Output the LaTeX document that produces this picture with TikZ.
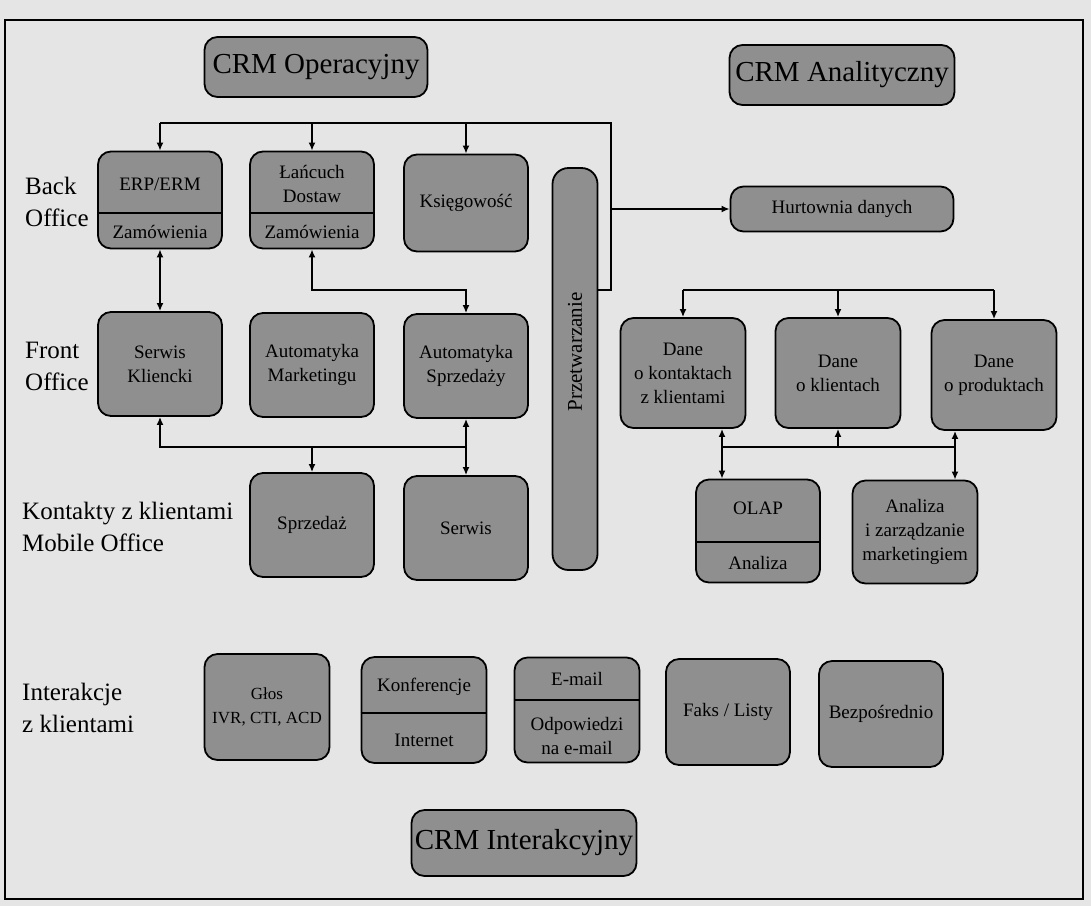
\documentclass[tikz,border=0pt]{standalone}
\usepackage{fontspec}
\setmainfont{Liberation Serif}
\usetikzlibrary{arrows.meta}
\definecolor{boxgray}{gray}{0.56}
\definecolor{paper}{gray}{0.90}
\begin{document}
\begin{tikzpicture}[x=1pt,y=-1pt,
  box/.style={draw=black, fill=boxgray, line width=1.8pt, rounded corners=13pt, align=center, inner sep=0pt, font=\fontsize{19}{24}\selectfont},
  big/.style={box, font=\fontsize{29}{34}\selectfont},
  txt/.style={align=center, inner sep=0pt, font=\fontsize{19}{24}\selectfont},
  side/.style={align=left, anchor=west, inner sep=0pt, font=\fontsize{25}{32}\selectfont},
  conn/.style={line width=1.8pt},
  arr/.style={conn, -{Latex[length=8pt,width=7pt]}},
  dbl/.style={conn, {Latex[length=8pt,width=7pt]}-{Latex[length=8pt,width=7pt]}},
  divider/.style={line width=1.8pt}
]
\fill[paper] (0,0) rectangle (1091,906);
\useasboundingbox (0,0) rectangle (1091,906);
\draw[line width=2pt] (5,20) rectangle (1083,899);

% headers
\node[big, minimum width=223pt, minimum height=60pt] (opr) at (316,67) {CRM Operacyjny};
\node[big, minimum width=225pt, minimum height=60pt] (ana) at (842,75) {CRM Analityczny};
\node[big, minimum width=225pt, minimum height=66pt] (int) at (524,843) {CRM Interakcyjny};

% side labels
\node[side] (lbBack) at (25,202) {Back\\Office};
\node[side] (lbFront) at (25,366) {Front\\Office};
\node[side] (lbMob) at (22,527) {Kontakty z klientami\\Mobile Office};
\node[side] (lbInt) at (22,708) {Interakcje\\z klientami};

% back office
\node[box, minimum width=124pt, minimum height=97pt] (erp) at (160,200) {};
\draw[divider] (erp.west |- 0,213) -- (erp.east |- 0,213);
\node[txt] (erpA) at (160,184) {ERP/ERM};
\node[txt] (erpB) at (160,232) {Zamówienia};
\node[box, minimum width=124pt, minimum height=97pt] (lan) at (312,200) {};
\draw[divider] (lan.west |- 0,213) -- (lan.east |- 0,213);
\node[txt] (lanA) at (312,184) {Łańcuch\\Dostaw};
\node[txt] (lanB) at (312,232) {Zamówienia};
\node[box, minimum width=124pt, minimum height=97pt] (ksi) at (466,203) {Księgowość};

% processing
\node[box, minimum width=45pt, minimum height=402pt, rounded corners=16pt] (prz) at (575,369) {};
\node[txt, rotate=90, font=\fontsize{21}{24}\selectfont] (przT) at (575,352) {Przetwarzanie};

\node[box, minimum width=223pt, minimum height=45pt] (hur) at (842,209) {Hurtownia danych};

% front office
\node[box, minimum width=124pt, minimum height=104pt] (sk) at (160,364) {Serwis\\Kliencki};
\node[box, minimum width=124pt, minimum height=104pt] (am) at (312,365) {Automatyka\\Marketingu};
\node[box, minimum width=124pt, minimum height=104pt] (as) at (466,366) {Automatyka\\Sprzedaży};

% mobile office
\node[box, minimum width=124pt, minimum height=104pt] (sprz) at (312,525) {Sprzedaż};
\node[box, minimum width=124pt, minimum height=104pt] (serw) at (466,528) {Serwis};

% analytic data
\node[box, minimum width=125pt, minimum height=110pt] (dk) at (683,373) {Dane\\o kontaktach\\z klientami};
\node[box, minimum width=125pt, minimum height=110pt] (dkl) at (838,373) {Dane\\o klientach};
\node[box, minimum width=125pt, minimum height=110pt] (dp) at (994,375) {Dane\\o produktach};

\node[box, minimum width=124pt, minimum height=103pt] (olap) at (758,531) {};
\draw[divider] (olap.west |- 0,542) -- (olap.east |- 0,542);
\node[txt] (olapA) at (758,508) {OLAP};
\node[txt] (olapB) at (758,563) {Analiza};
\node[box, minimum width=125pt, minimum height=103pt] (anm) at (915,532) {Analiza\\i zarządzanie\\marketingiem};

% interaction channels
\node[box, minimum width=125pt, minimum height=106pt, font=\fontsize{17}{24}\selectfont] (glos) at (267,707) {Głos\\IVR, CTI, ACD};
\node[box, minimum width=125pt, minimum height=106pt] (konf) at (424,710) {};
\draw[divider] (konf.west |- 0,713) -- (konf.east |- 0,713);
\node[txt] (konfA) at (424,687) {Konferencje};
\node[txt] (konfB) at (424,740) {Internet};
\node[box, minimum width=125pt, minimum height=105pt] (mail) at (577,710) {};
\draw[divider] (mail.west |- 0,700) -- (mail.east |- 0,700);
\node[txt] (mailA) at (577,679) {E-mail};
\node[txt] (mailB) at (577,736) {Odpowiedzi\\na e-mail};
\node[box, minimum width=124pt, minimum height=106pt] (faks) at (728,712) {Faks / Listy};
\node[box, minimum width=124pt, minimum height=106pt] (bez) at (881,714) {Bezpośrednio};

% connectors: top bus
\coordinate (tb) at (611,123);
\draw[conn] (erp.north |- tb) -- (tb) -- (tb |- 0,290) -- (prz.east |- 0,290);
\draw[arr] (erp.north |- tb) -- (erp.north);
\draw[arr] (lan.north |- tb) -- (lan.north);
\draw[arr] (ksi.north |- tb) -- (ksi.north);
\draw[arr] (tb |- hur.west) -- (hur.west);

% back <-> front
\draw[dbl] (erp.south) -- (sk.north);
\draw[dbl] (lan.south) |- (as.north |- 0,290) -- (as.north);

% front <-> mobile
\coordinate (m1) at (466,447);
\draw[dbl] (sk.south) |- (m1) -- (as.south);
\draw[arr] (m1) -- (serw.north);
\draw[arr] (sprz.north |- m1) -- (sprz.north);

% analytic bus
\coordinate (rb) at (994,290);
\draw[conn] (dk.north |- rb) -- (rb);
\draw[arr] (dk.north |- rb) -- (dk.north);
\draw[arr] (dkl.north |- rb) -- (dkl.north);
\draw[arr] (rb) -- (dp.north);

\coordinate (c1) at (722,447);
\coordinate (c2) at (955,447);
\draw[conn] (c1) -- (c2);
\draw[arr] (c1) -- (c1 |- dk.south);
\draw[arr] (c1) -- (c1 |- olap.north);
\draw[arr] (c2) -- (c2 |- dp.south);
\draw[arr] (c2) -- (c2 |- anm.north);
\draw[arr] (dkl.south |- c1) -- (dkl.south);
\end{tikzpicture}
\end{document}
